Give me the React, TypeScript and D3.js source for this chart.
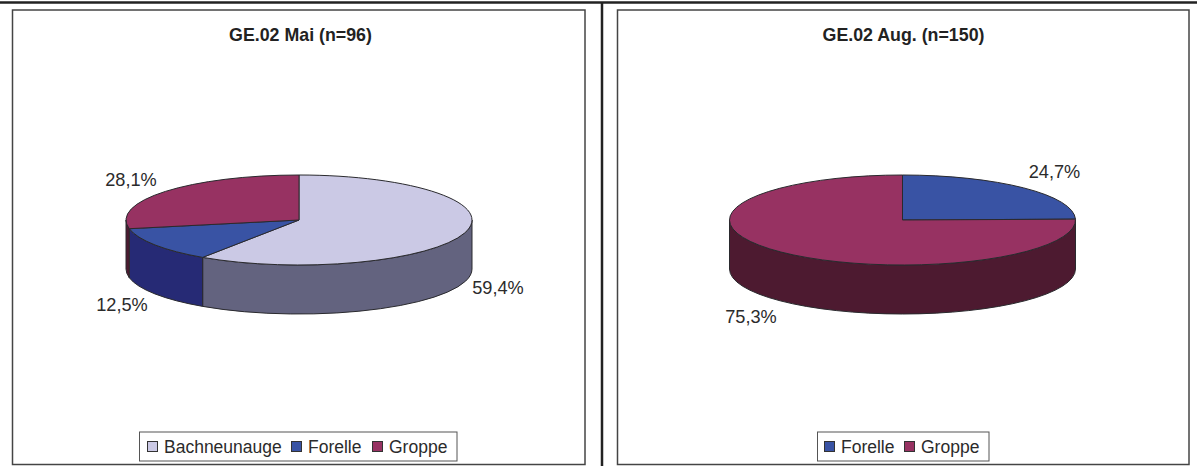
import React from "react";
import * as d3 from "d3";

const FONT = "'Liberation Sans', Arial, sans-serif";

const speciesMay = ["Bachneunauge", "Forelle", "Groppe"];
const valuesMay = [59.4, 12.5, 28.1];
const speciesAug = ["Forelle", "Groppe"];
const valuesAug = [24.7, 75.3];

const titleMay = "GE.02 Mai (n=96)";
const titleAug = "GE.02 Aug. (n=150)";

const topColors: Record<string, string> = {
  Bachneunauge: "#cbc9e5",
  Forelle: "#3953a4",
  Groppe: "#973262",
};
const wallColors: Record<string, string> = {
  Bachneunauge: "#63637f",
  Forelle: "#262a75",
  Groppe: "#4d1a30",
};

const RX = 173;
const RY = 45;
const DEPTH = 49;
const STROKE = "#2a2a2e";

type LabelPos = { x: number; y: number };

const pointAt = (cx: number, cy: number, a: number): [number, number] => [
  cx + RX * Math.sin(a),
  cy - RY * Math.cos(a),
];

// Top face of a slice, as an elliptical wedge measured clockwise from 12 o'clock.
function wedgePath(cx: number, cy: number, a0: number, a1: number) {
  const [x0, y0] = pointAt(cx, cy, a0);
  const [x1, y1] = pointAt(cx, cy, a1);
  const large = a1 - a0 > Math.PI ? 1 : 0;
  return `M${cx},${cy}L${x0},${y0}A${RX},${RY} 0 ${large} 1 ${x1},${y1}Z`;
}

// Visible rim of a slice: only the front half of the ellipse (90deg to 270deg).
function wallPath(cx: number, cy: number, a0: number, a1: number) {
  const lo = Math.max(a0, Math.PI / 2);
  const hi = Math.min(a1, (3 * Math.PI) / 2);
  if (hi <= lo) return null;
  const [x0, y0] = pointAt(cx, cy, lo);
  const [x1, y1] = pointAt(cx, cy, hi);
  return `M${x0},${y0}A${RX},${RY} 0 0 1 ${x1},${y1}L${x1},${y1 + DEPTH}A${RX},${RY} 0 0 0 ${x0},${y0 + DEPTH}Z`;
}

function Pie3D({
  cx,
  cy,
  names,
  values,
  labels,
}: {
  cx: number;
  cy: number;
  names: string[];
  values: number[];
  labels: LabelPos[];
}) {
  const slices = d3
    .pie<number>()
    .sort(null)
    .startAngle(0)
    .endAngle(2 * Math.PI)(values);
  return (
    <g>
      {slices.map((s, i) => {
        const d = wallPath(cx, cy, s.startAngle, s.endAngle);
        return d ? (
          <path key={i} d={d} fill={wallColors[names[i]]} stroke={STROKE} strokeWidth={1} strokeLinejoin="round" />
        ) : null;
      })}
      {slices.map((s, i) => (
        <path
          key={i}
          d={wedgePath(cx, cy, s.startAngle, s.endAngle)}
          fill={topColors[names[i]]}
          stroke={STROKE}
          strokeWidth={1}
          strokeLinejoin="round"
        />
      ))}
      {slices.map((s, i) => (
        <text key={i} x={labels[i].x} y={labels[i].y} textAnchor="middle" fontSize={18.2} fill="#2b2b2b">
          {values[i].toFixed(1).replace(".", ",")}%
        </text>
      ))}
    </g>
  );
}

function Legend({ x, y, w, h, names, gap }: { x: number; y: number; w: number; h: number; names: string[]; gap: number[] }) {
  return (
    <g>
      <rect x={x} y={y} width={w} height={h} fill="#fff" stroke="#555" strokeWidth={1} />
      {names.map((n, i) => (
        <g key={n}>
          <rect x={x + gap[i]} y={y + 9.5} width={10} height={10} fill={topColors[n]} stroke="#333" strokeWidth={1} />
          <text x={x + gap[i] + 16.5} y={y + 20.5} fontSize={17.5} fill="#2b2b2b">
            {n}
          </text>
        </g>
      ))}
    </g>
  );
}

export default function App() {
  return (
    <svg
      width={1197}
      height={466}
      viewBox="0 0 1197 466"
      style={{ position: "absolute", left: 0, top: 0, background: "#fff", fontFamily: FONT }}
    >
      {/* Table rules around the two chart cells */}
      <line x1={0} x2={1197} y1={2.5} y2={2.5} stroke="#222" strokeWidth={2.5} />
      <line x1={602} x2={602} y1={2} y2={466} stroke="#222" strokeWidth={2.5} />

      <rect x={12.5} y={10} width={572.5} height={454.5} fill="#fff" stroke="#444" strokeWidth={1.5} />
      <rect x={617.5} y={10} width={571.5} height={454.5} fill="#fff" stroke="#444" strokeWidth={1.5} />

      <text x={300.5} y={40.5} textAnchor="middle" fontSize={17.8} fontWeight="bold" fill="#222">
        {titleMay}
      </text>
      <text x={903.5} y={40.5} textAnchor="middle" fontSize={17.8} fontWeight="bold" fill="#222">
        {titleAug}
      </text>

      <Pie3D
        cx={299}
        cy={220}
        names={speciesMay}
        values={valuesMay}
        labels={[
          { x: 498, y: 294 },
          { x: 122, y: 311 },
          { x: 131, y: 186 },
        ]}
      />
      <Pie3D
        cx={902.5}
        cy={220}
        names={speciesAug}
        values={valuesAug}
        labels={[
          { x: 1054.5, y: 178 },
          { x: 751, y: 323 },
        ]}
      />

      <Legend x={139.5} y={432} w={317.5} h={29} names={speciesMay} gap={[8, 152, 233]} />
      <Legend x={817.5} y={432} w={171.5} h={29} names={speciesAug} gap={[7, 87]} />
    </svg>
  );
}
